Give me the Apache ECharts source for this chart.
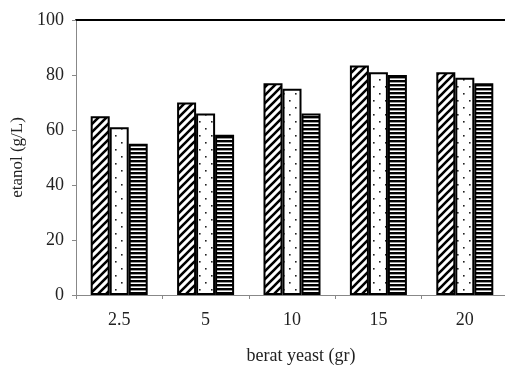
<!DOCTYPE html>
<html>
<head>
<meta charset="utf-8">
<script src="https://cdn.jsdelivr.net/npm/echarts@6/dist/echarts.min.js"></script>
<style>
  html, body { margin: 0; padding: 0; background: #fff; }
  #chart { width: 505px; height: 367px; }
</style>
</head>
<body>
<div id="chart"></div>
<script>
// Ethanol yield per yeast mass, three treatments per group
const categories = ['2.5', '5', '10', '15', '20'];
const seriesA = [65, 70, 77, 83.5, 81];   // diagonal hatch
const seriesB = [61, 66, 75, 81, 79];     // dotted
const seriesC = [55, 58.3, 66, 80, 77];   // horizontal stripes
const yTicks = [0, 20, 40, 60, 80, 100];

function makeTile(w, h, draw) {
  const c = document.createElement('canvas');
  c.width = w; c.height = h;
  const ctx = c.getContext('2d');
  ctx.fillStyle = '#fff';
  ctx.fillRect(0, 0, w, h);
  draw(ctx, w, h);
  return c;
}

const hatchTile = makeTile(8, 8, (ctx, w, h) => {
  ctx.strokeStyle = '#000';
  ctx.lineWidth = 2.6;
  ctx.beginPath();
  ctx.moveTo(-w, 2 * h); ctx.lineTo(2 * w, -h);
  ctx.moveTo(-2 * w, 2 * h); ctx.lineTo(w, -h);
  ctx.moveTo(0, 2 * h); ctx.lineTo(3 * w, -h);
  ctx.stroke();
});

const dotTile = makeTile(12, 14, (ctx) => {
  ctx.fillStyle = '#222';
  ctx.fillRect(1, 2, 1.6, 1.6);
  ctx.fillRect(7, 9, 1.6, 1.6);
});

const stripeTile = makeTile(4, 4.6, (ctx, w) => {
  ctx.fillStyle = '#000';
  ctx.fillRect(0, 0, w, 2.4);
});

function patternStyle(tile) {
  return {
    color: { image: tile, repeat: 'repeat' },
    borderColor: '#000',
    borderWidth: 2
  };
}

const serif = '"Liberation Serif", "DejaVu Serif", serif';

const chart = echarts.init(document.getElementById('chart'), null, { renderer: 'canvas' });
chart.setOption({
  animation: false,
  backgroundColor: '#fff',
  grid: { left: 76, top: 20, width: 432, height: 275, containLabel: false, outerBoundsMode: 'none' },
  xAxis: [{
    type: 'category',
    data: categories,
    name: 'berat yeast (gr)',
    nameLocation: 'middle',
    nameGap: 52,
    nameTextStyle: { fontFamily: serif, fontSize: 18, color: '#222', padding: [0, 0, 0, 18] },
    axisLine: { lineStyle: { color: '#888', width: 1 } },
    axisTick: { show: true, length: 4, inside: false, lineStyle: { color: '#888' } },
    axisLabel: { fontFamily: serif, fontSize: 18, color: '#222', margin: 16 }
  }, {
    type: 'category',
    data: categories,
    position: 'top',
    axisLine: { lineStyle: { color: '#000', width: 2 } },
    axisTick: { show: false },
    axisLabel: { show: false }
  }],
  yAxis: {
    type: 'value',
    min: 0, max: 100, interval: 20,
    name: 'etanol (g/L)',
    nameLocation: 'middle',
    nameGap: 44,
    nameRotate: 90,
    nameTextStyle: { fontFamily: serif, fontSize: 17, color: '#222' },
    axisLine: { show: true, lineStyle: { color: '#888', width: 1 } },
    axisTick: { show: true, length: 4, lineStyle: { color: '#888' } },
    axisLabel: {
      fontFamily: serif, fontSize: 18, color: '#222', margin: 12,
      formatter: (v) => (yTicks.includes(v) ? String(v) : '')
    },
    splitLine: { show: false }
  },
  series: [
    { type: 'bar', data: seriesA, barWidth: 19, barGap: '0%', itemStyle: patternStyle(hatchTile) },
    { type: 'bar', data: seriesB, barWidth: 19, barGap: '0%', itemStyle: patternStyle(dotTile) },
    { type: 'bar', data: seriesC, barWidth: 19, barGap: '0%', itemStyle: patternStyle(stripeTile) }
  ]
});
</script>
</body>
</html>
